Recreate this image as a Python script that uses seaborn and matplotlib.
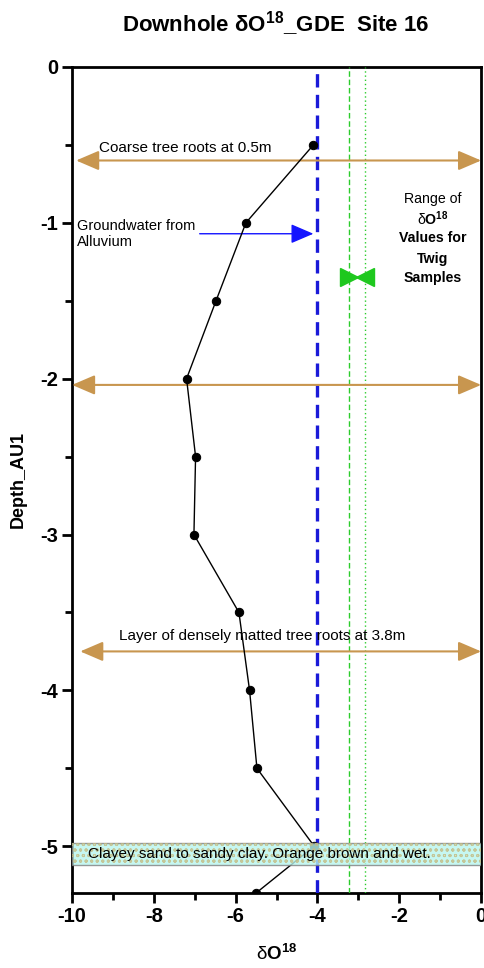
import matplotlib
matplotlib.use("Agg")
import matplotlib.pyplot as plt
import seaborn as sns
import pandas as pd
from matplotlib.ticker import MultipleLocator, FuncFormatter

# Downhole profile: delta O-18 against depth
depth = [-0.5, -1.0, -1.5, -2.0, -2.5, -3.0, -3.5, -4.0, -4.5, -5.0, -5.3]
delta_o18 = [-4.1, -5.75, -6.48, -7.2, -6.98, -7.02, -5.92, -5.66, -5.48, -4.08, -5.5]

groundwater_o18 = -4.0          # alluvium groundwater value
twig_range = [-3.22, -2.85]     # range of twig sample values
root_depths = [-0.6, -2.04, -3.75]
clay_layer = [-4.98, -5.12]

sns.set_theme(style="white")
plt.rcParams["font.family"] = ["Liberation Sans", "DejaVu Sans"]
plt.rcParams["mathtext.fontset"] = "custom"
plt.rcParams["mathtext.rm"] = "Liberation Sans"
plt.rcParams["mathtext.bf"] = "Liberation Sans:bold"
plt.rcParams["hatch.linewidth"] = 0.7
for key in ["text.color", "axes.labelcolor", "xtick.color", "ytick.color", "axes.edgecolor"]:
    plt.rcParams[key] = "black"

df = pd.DataFrame({"depth": depth, "d18O": delta_o18})

fig = plt.figure(figsize=(4.85, 9.68), dpi=100)
ax = fig.add_axes([0.1485, 0.0775, 0.8435, 0.8533])

# profile
sns.lineplot(data=df, x="d18O", y="depth", sort=False, estimator=None,
             color="black", linewidth=1.0, marker="o", markersize=6,
             markeredgecolor="black", ax=ax, zorder=5)

# reference lines
ax.axvline(groundwater_o18, color="#1a1ad8", linewidth=2.4, linestyle=(0, (4, 2.2)), zorder=3)
ax.axvline(twig_range[0], color="#2ccc2c", linewidth=1.0, linestyle=(0, (4, 2)), zorder=3)
ax.axvline(twig_range[1], color="#2ccc2c", linewidth=1.0, linestyle=(0, (1, 2)), zorder=3)

# twig range bow-tie
ax.plot([twig_range[0]], [-1.35], marker=">", markersize=12.5, color="#1ec81e",
        linestyle="none", zorder=6)
ax.plot([twig_range[1]], [-1.35], marker="<", markersize=12.5, color="#1ec81e",
        linestyle="none", zorder=6)

# root layers (double arrows)
root_left = [-9.9, -10.0, -9.8]
for d, xl in zip(root_depths, root_left):
    ax.annotate("", xy=(0.0, d), xytext=(xl, d),
                arrowprops=dict(arrowstyle="<|-|>,head_length=14,head_width=6",
                                mutation_scale=1, color="#c8964f", linewidth=1.5,
                                shrinkA=0, shrinkB=0), zorder=4)

ax.text(-9.33, -0.52, "Coarse tree roots at 0.5m", fontsize=11, va="center", ha="left")
ax.text(-8.85, -3.65, "Layer of densely matted tree roots at 3.8m", fontsize=11,
        va="center", ha="left")

# groundwater arrow
ax.annotate("", xy=(-4.1, -1.07), xytext=(-6.88, -1.07),
            arrowprops=dict(arrowstyle="-|>,head_length=14,head_width=6",
                            mutation_scale=1, color="#1414ff", linewidth=1.0,
                            shrinkA=0, shrinkB=0), zorder=4)
ax.text(-9.88, -1.072, "Groundwater from\nAlluvium", fontsize=10.5, va="center",
        ha="left", linespacing=1.2)

# twig range caption
tx = -1.18
ax.text(tx, -0.845, "Range of", fontsize=10.2, ha="center", va="center")
ax.text(tx, -0.975, r"δ$\mathbf{O^{18}}$", fontsize=10.2, ha="center", va="center")
ax.text(tx, -1.1, "Values for", fontsize=10.2, ha="center", va="center", fontweight="bold")
ax.text(tx, -1.23, "Twig", fontsize=10.2, ha="center", va="center", fontweight="bold")
ax.text(tx, -1.355, "Samples", fontsize=10.2, ha="center", va="center", fontweight="bold")

# clay layer band
ax.axhspan(clay_layer[1], clay_layer[0], facecolor="#b8f6ee", edgecolor="#808080",
           linewidth=1.0, alpha=0.8, zorder=7)
ax.axhspan(clay_layer[1], clay_layer[0], facecolor="none", edgecolor="#c4bc84",
           hatch="ooo", linewidth=0, alpha=0.8, zorder=7)
ax.text(-9.62, -5.05, "Clayey sand to sandy clay. Orange brown and wet.", fontsize=11,
        va="center", ha="left", zorder=8)

# axes styling
ax.set_xlim(-10, 0)
ax.set_ylim(-5.3, 0)
ax.xaxis.set_major_locator(MultipleLocator(2))
ax.xaxis.set_minor_locator(MultipleLocator(1))
ax.yaxis.set_major_locator(MultipleLocator(1))
ax.yaxis.set_minor_locator(MultipleLocator(0.5))
ax.tick_params(which="major", direction="out", length=7, width=2, labelsize=14.5,
               bottom=True, left=True, pad=3)
ax.tick_params(which="minor", direction="out", length=5, width=2, bottom=True, left=True)
fmt = FuncFormatter(lambda v, p: f"{v:g}")
ax.xaxis.set_major_formatter(fmt)
ax.yaxis.set_major_formatter(fmt)
for lab in ax.get_xticklabels() + ax.get_yticklabels():
    lab.set_fontweight("bold")
for s in ax.spines.values():
    s.set_linewidth(2)
    s.set_color("black")

ax.set_xlabel(r"δ$\mathbf{O^{18}}$", fontsize=13.5, labelpad=13)
ax.set_ylabel("Depth_AU1", fontsize=13, fontweight="bold", labelpad=10)
fig.suptitle(r"Downhole δO$^{\mathbf{18}}$_GDE  Site 16", fontsize=16,
             fontweight="bold", x=0.569, y=0.99)

fig.savefig("out.png", dpi=100)
